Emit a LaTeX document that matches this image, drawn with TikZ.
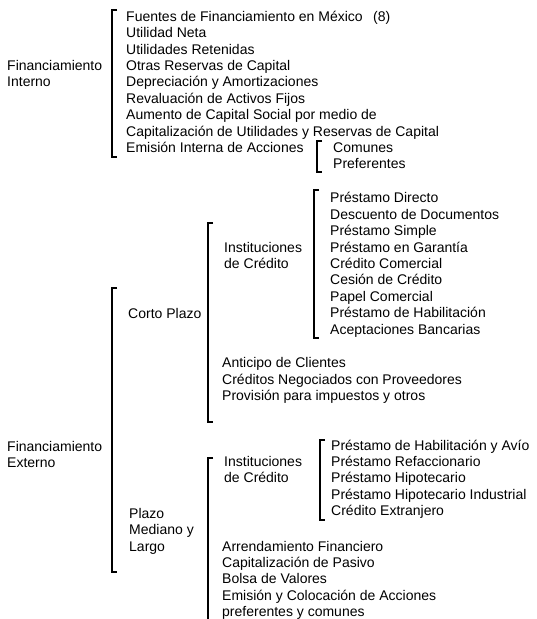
\documentclass[tikz,border=0pt]{standalone}
\usepackage{fontspec}
\setmainfont{Liberation Sans}
\tikzset{
  lbl/.style={anchor=base west, inner sep=0pt, font=\fontsize{14}{16.4}\selectfont},
  brk/.style={line width=1.1pt, line join=miter, line cap=butt},
}
\newcommand\brackat[3]{\draw[brk] (#1+5,#2) -- (#1,#2) -- (#1,#3) -- (#1+5,#3);}
\begin{document}
\begin{tikzpicture}[x=1pt,y=-1pt]
\useasboundingbox (0,0) rectangle (536,619);
\clip (0,0) rectangle (536,619);

% ---------- Financiamiento Interno ----------
\node[lbl] (fint1) at (7,70.5) {Financiamiento};
\node[lbl] (fint2) at (7,86.9) {Interno};
\brackat{112}{10}{157}
\foreach [count=\i from 0] \t in {Fuentes de Financiamiento en México,
  Utilidad Neta, Utilidades Retenidas, Otras Reservas de Capital,
  Depreciación y Amortizaciones, Revaluación de Activos Fijos,
  Aumento de Capital Social por medio de,
  Capitalización de Utilidades y Reservas de Capital,
  Emisión Interna de Acciones}
  \node[lbl] (ia\i) at (126,21.2+16.4*\i) {\t};
\node[lbl] (ref) at (373,21.2) {(8)};
\brackat{317}{141}{172}
\node[lbl] (com) at (333,152.4) {Comunes};
\node[lbl] (pref) at (333,168.8) {Preferentes};

% ---------- Financiamiento Externo ----------
\node[lbl] (fext1) at (7,451.5) {Financiamiento};
\node[lbl] (fext2) at (7,467.9) {Externo};
\brackat{112}{288}{572}

% Corto plazo
\node[lbl] (cp) at (128,318.5) {Corto Plazo};
\brackat{208}{223}{422}
\node[lbl] (ic1) at (224,252) {Instituciones};
\node[lbl] (ic2) at (224,268.4) {de Crédito};
\brackat{314}{190}{338}
\foreach [count=\i from 0] \t in {Préstamo Directo, Descuento de Documentos,
  Préstamo Simple, Préstamo en Garantía, Crédito Comercial, Cesión de Crédito,
  Papel Comercial, Préstamo de Habilitación, Aceptaciones Bancarias}
  \node[lbl] (cb\i) at (330,202.8+16.4*\i) {\t};
\foreach [count=\i from 0] \t in {Anticipo de Clientes,
  Créditos Negociados con Proveedores, Provisión para impuestos y otros}
  \node[lbl] (co\i) at (222,367.6+16.4*\i) {\t};

% Plazo mediano y largo
\node[lbl] (pl1) at (129,518.5) {Plazo};
\node[lbl] (pl2) at (129,534.9) {Mediano y};
\node[lbl] (pl3) at (129,551.3) {Largo};
\brackat{208}{458}{640}
\node[lbl] (ib1) at (224,466.4) {Instituciones};
\node[lbl] (ib2) at (224,482.8) {de Crédito};
\brackat{320}{440}{520}
\foreach [count=\i from 0] \t in {Préstamo de Habilitación y Avío,
  Préstamo Refaccionario, Préstamo Hipotecario,
  Préstamo Hipotecario Industrial, Crédito Extranjero}
  \node[lbl] (lb\i) at (331,450+16.4*\i) {\t};
\foreach [count=\i from 0] \t in {Arrendamiento Financiero,
  Capitalización de Pasivo, Bolsa de Valores,
  Emisión y Colocación de Acciones, preferentes y comunes}
  \node[lbl] (lo\i) at (222,551+16.4*\i) {\t};
\end{tikzpicture}
\end{document}
